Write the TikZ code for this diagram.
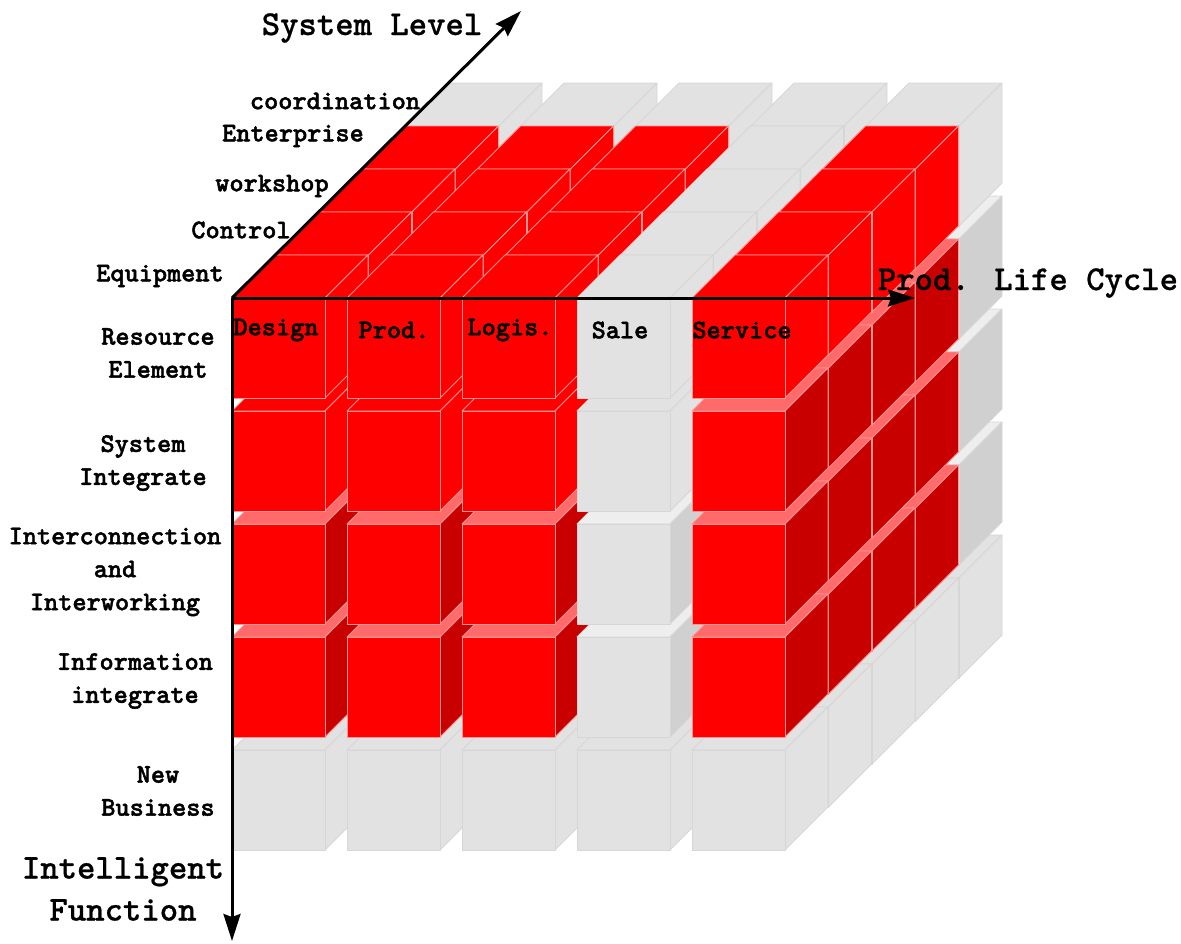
\documentclass[tikz,border=0pt]{standalone}
\usepackage{fontspec}
\usetikzlibrary{arrows.meta}

\newfontfamily\lblfont{lmmonolt10-bold.otf}[FakeBold=1.6]
\newfontfamily\axisfont{lmmonolt10-bold.otf}[FakeBold=0.6]

\definecolor{cubered}{HTML}{FF0000}
\definecolor{redtop}{HTML}{FF6A6A}
\definecolor{redside}{HTML}{C80000}
\definecolor{rededge}{HTML}{FF9494}
\definecolor{cubegray}{HTML}{E2E2E2}
\definecolor{graytop}{HTML}{EEEEEE}
\definecolor{grayside}{HTML}{D0D0D0}
\definecolor{grayedge}{HTML}{D6D6D6}

% one block: x, y of front top left corner, front, top, side, edge colour
\newcommand{\drawcube}[6]{%
    \filldraw[face,fill=#4,draw=#6] (#1,#2) -- ++(93,0) -- ++(43,-43) -- ++(-93,0) -- cycle;
    \filldraw[face,fill=#5,draw=#6] (#1+93,#2) -- ++(0,100) -- ++(43,-43) -- ++(0,-100) -- cycle;
    \filldraw[face,fill=#3,draw=#6] (#1,#2) rectangle ++(93,100);
}

\begin{document}
\begin{tikzpicture}[x=1pt,y=-1pt,
        face/.style={line width=0.8pt,line join=round},
        lbl/.style={font=\fontsize{27}{33}\selectfont\lblfont,align=center,inner sep=0pt},
        biglbl/.style={font=\fontsize{35}{42}\selectfont\axisfont,align=center,inner sep=0pt},
        axis/.style={line width=3pt,-{Stealth[length=27pt,width=17pt,inset=3pt]}}]
    \useasboundingbox (0,0) rectangle (1181,943);

    % blocks, back layer first
    \foreach \k in {4,...,0} {
        \foreach \j in {4,...,0} {
            \foreach \i in {0,...,4} {
                \pgfmathsetmacro{\X}{232+115*\i+43.5*\k}
                \pgfmathsetmacro{\Y}{298+113*\j-43*\k}
                \pgfmathtruncatemacro{\isred}{(\i!=3)&&(\j<4)&&(\k<4)}
                \pgfmathtruncatemacro{\isflat}{(\j==0)||(\j==4)||((\j==1)&&(\i<4))}
                \ifnum\isred=1
                    \def\fcol{cubered}\def\ecol{rededge}
                    \ifnum\isflat=1 \def\tcol{cubered}\def\scol{cubered}\else\def\tcol{redtop}\def\scol{redside}\fi
                \else
                    \def\fcol{cubegray}\def\ecol{grayedge}
                    \ifnum\isflat=1 \def\tcol{cubegray}\def\scol{cubegray}\else\def\tcol{graytop}\def\scol{grayside}\fi
                \fi
                \drawcube{\X}{\Y}{\fcol}{\tcol}{\scol}{\ecol}
            }
        }
    }

    % axes
    \coordinate (O) at (232,298);
    \coordinate (lcEnd) at (915,298);
    \coordinate (slEnd) at (521,11);
    \coordinate (ifEnd) at (232,941);
    \draw[axis] (O) -- (lcEnd);
    \draw[axis] (O) -- (slEnd);
    \draw[axis] (O) -- (ifEnd);

    \node[biglbl] (sysLevel) at (372,28) {System Level};
    \node[biglbl] (lifeCycle) at (1028,283) {Prod. Life Cycle};
    \node[biglbl] (intFunc) at (123,889) {Intelligent\\Function};

    % system levels
    \node[lbl] (slCoord) at (335,101) {coordination};
    \node[lbl] (slEnter) at (293,136) {Enterprise};
    \node[lbl] (slWork) at (272,186) {workshop};
    \node[lbl] (slCtrl) at (241,230) {Control};
    \node[lbl] (slEquip) at (160,276) {Equipment};

    % life cycle
    \node[lbl] (lcDesign) at (276,330) {Design};
    \node[lbl] (lcProd) at (394,330) {Prod.};
    \node[lbl] (lcLogis) at (510,330) {Logis.};
    \node[lbl] (lcSale) at (620,330) {Sale};
    \node[lbl] (lcServ) at (742,330) {Service};

    % intelligent functions
    \node[lbl] (ifRes) at (158,353) {Resource\\Element};
    \node[lbl] (ifSys) at (143,463) {System\\Integrate};
    \node[lbl] (ifInter) at (115,572) {Interconnection\\and\\Interworking};
    \node[lbl] (ifInfo) at (135,681) {Information\\integrate};
    \node[lbl] (ifNew) at (158,791) {New\\Business};
\end{tikzpicture}
\end{document}
